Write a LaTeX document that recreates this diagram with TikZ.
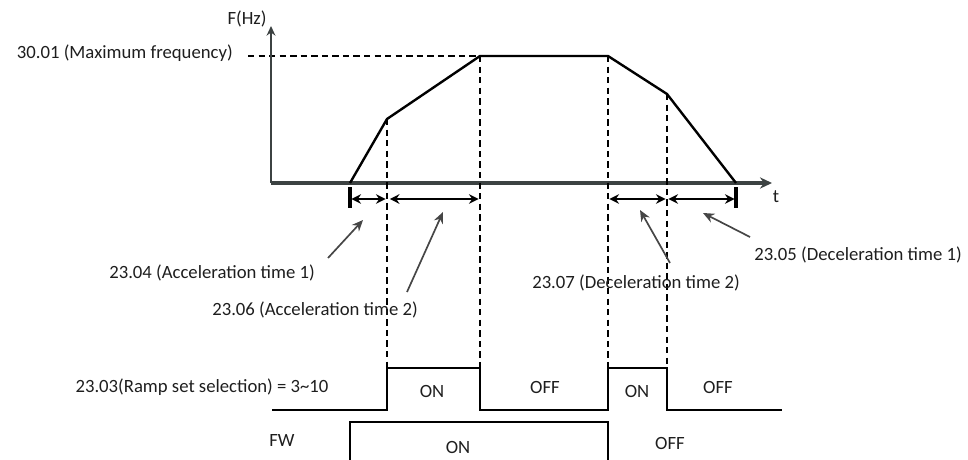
\documentclass[tikz,border=0pt]{standalone}
\usepackage{fontspec}
\setmainfont{Carlito}
\usetikzlibrary{arrows.meta, positioning}
\definecolor{axisgray}{RGB}{60,66,66}
\definecolor{textgray}{RGB}{30,30,30}
\definecolor{pointgray}{RGB}{70,70,70}

\begin{document}
\begin{tikzpicture}[
    x=0.025cm, y=-0.025cm,
    lbl/.style={font=\fontsize{13.3}{16}\selectfont, text=textgray, inner sep=0pt},
    axis/.style={line width=2.6pt, axisgray},
    yaxis/.style={line width=1.8pt, axisgray, -{Stealth[length=2.4mm, width=2.2mm]}},
    curve/.style={line width=1.7pt, black},
    guide/.style={line width=0.8pt, black, dash pattern=on 4.5pt off 3pt},
    span/.style={{Stealth[length=2.4mm, width=2.4mm]}-{Stealth[length=2.4mm, width=2.4mm]}, line width=1.8pt, black},
    pointer/.style={-{Stealth[length=2.8mm, width=2.4mm]}, line width=1.2pt, pointgray},
    signal/.style={line width=2pt, black},
    tick/.style={line width=2.6pt, black}
]
\useasboundingbox (0,0) rectangle (968,460);

% Frequency profile
\coordinate (origin) at (271,183);
\coordinate (ytop) at (271,26);
\coordinate (xend) at (772,183);
\coordinate (start) at (350,183);
\coordinate (acc1) at (387,119);
\coordinate (acc2) at (480,56);
\coordinate (dec1) at (608,56);
\coordinate (dec2) at (667,94);
\coordinate (stop) at (736,183);
\coordinate (fmaxl) at (248,56);

\draw[guide] (fmaxl) -- (acc2);
\draw[yaxis] (origin) -- (ytop);
\draw[axis, -{Stealth[length=3mm, width=2.8mm]}] (origin) -- (xend);
\draw[curve] (start) -- (acc1) -- (acc2) -- (dec1) -- (dec2) -- (stop);

\node[lbl] (fhz) at (247,19) {F(Hz)};
\node[lbl, anchor=east] (fmax) at (233,53) {30.01 (Maximum frequency)};
\node[lbl] (tlbl) at (776,197) {t};

% Ramp set signal levels
\coordinate (rhi) at (0,368);
\coordinate (rlo) at (0,410);
\coordinate (rleft) at (272,410);
\coordinate (rright) at (782,410);

% Guide lines down to the ramp signal
\draw[guide] (acc1) -- (acc1 |- rhi);
\draw[guide] (acc2) -- (acc2 |- rhi);
\draw[guide] (dec1) -- (dec1 |- rhi);
\draw[guide] (dec2) -- (dec2 |- rhi);

% Time spans
\coordinate (tk) at (0,187);
\coordinate (tkb) at (0,208);
\coordinate (sp) at (0,199);
\draw[tick] (start |- tk) -- (start |- tkb);
\draw[tick] (stop |- tk) -- (stop |- tkb);
\draw[span] ([xshift=1pt]start |- sp) -- ([xshift=-1pt]acc1 |- sp);
\draw[span] ([xshift=2pt]acc1 |- sp) -- ([xshift=-1pt]acc2 |- sp);
\draw[span] ([xshift=1pt]dec1 |- sp) -- ([xshift=-1pt]dec2 |- sp);
\draw[span] ([xshift=1pt]dec2 |- sp) -- ([xshift=-1pt]stop |- sp);

% Parameter labels
\node[lbl] (acct1) at (212,273) {23.04 (Acceleration time 1)};
\node[lbl] (acct2) at (315,310) {23.06 (Acceleration time 2)};
\node[lbl] (dect2) at (636,283) {23.07 (Deceleration time 2)};
\node[lbl] (dect1) at (858,255) {23.05 (Deceleration time 1)};

\coordinate (pa1) at (328,258);
\coordinate (ha1) at (363,220);
\coordinate (pa2) at (407,292);
\coordinate (ha2) at (443,212);
\coordinate (pd2) at (670,263);
\coordinate (hd2) at (640,210);
\coordinate (pd1) at (750,237);
\coordinate (hd1) at (703,213);
\draw[pointer] (pa1) -- (ha1);
\draw[pointer] (pa2) -- (ha2);
\draw[pointer] (pd2) -- (hd2);
\draw[pointer] (pd1) -- (hd1);

% Ramp set selection signal
\node[lbl] (ramp) at (202,387) {23.03(Ramp set selection) = 3\textasciitilde10};
\draw[signal] (rleft) -- (acc1 |- rlo) -- (acc1 |- rhi) -- (acc2 |- rhi) -- (acc2 |- rlo)
    -- (dec1 |- rlo) -- (dec1 |- rhi) -- (dec2 |- rhi) -- (dec2 |- rlo) -- (rright);
\node[lbl] (ron1) at (432,391) {ON};
\node[lbl] (roff1) at (545,387) {OFF};
\node[lbl] (ron2) at (637,391) {ON};
\node[lbl] (roff2) at (718,387) {OFF};

% FW signal
\coordinate (fwhi) at (0,422);
\coordinate (fwlo) at (0,460);
\node[lbl] (fw) at (282,440) {FW};
\draw[signal] (start |- fwlo) -- (start |- fwhi) -- (dec1 |- fwhi) -- (dec1 |- fwlo);
\node[lbl] (fwon) at (458,447) {ON};
\node[lbl] (fwoff) at (670,443) {OFF};

\end{tikzpicture}
\end{document}
